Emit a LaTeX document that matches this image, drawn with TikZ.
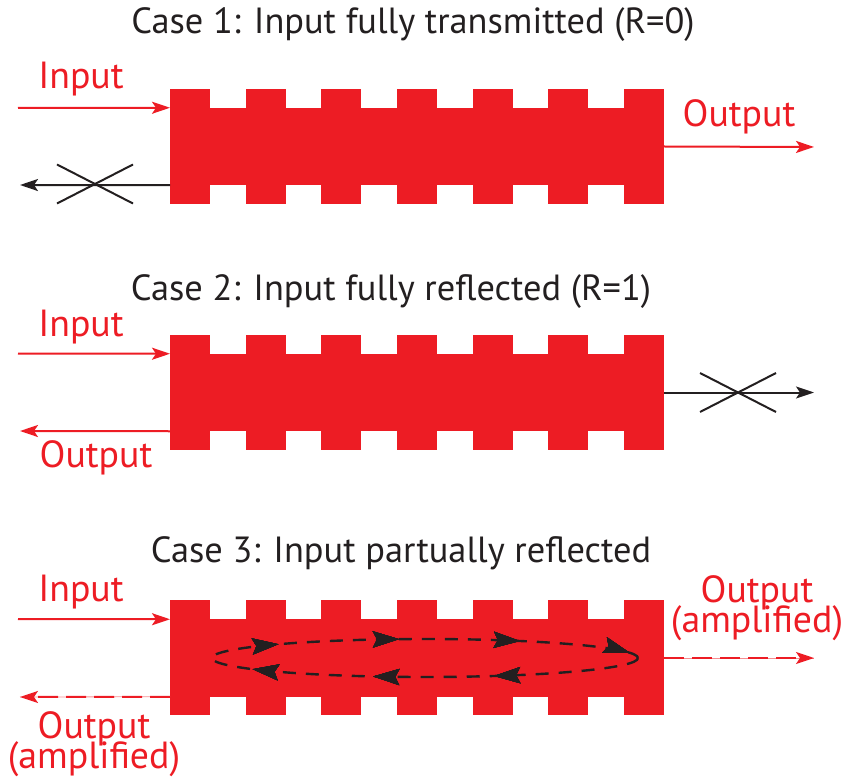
\documentclass[tikz,border=0pt]{standalone}
\usepackage{fontspec}
\setmainfont{PT Sans}
\usetikzlibrary{arrows.meta,decorations.markings,shapes.misc}
\definecolor{cred}{RGB}{237,28,36}
\definecolor{cblk}{RGB}{35,31,32}
\newcommand{\labfont}{\fontsize{18.9}{15}\selectfont\lineskiplimit-20pt\relax}

\begin{document}
\begin{tikzpicture}[x=0.5pt,y=-0.5pt, inner sep=0pt, outer sep=0pt, >={Stealth[length=9pt,width=6pt,inset=2pt]},
  body/.style={rectangle, fill=cred, minimum width=247pt, minimum height=38.75pt},
  lab/.style={text=cred, font={\labfont}, align=center},
  ttl/.style={text=cblk, font=\fontsize{18.2}{20}\selectfont, anchor=base},
  redarr/.style={draw=cred, line width=1pt, ->},
  blkarr/.style={draw=cblk, line width=1pt, ->},
  amparr/.style={draw=cred, line width=1pt, dash pattern=on 10pt off 4pt, ->, preaction={draw=cred!50, solid, -}},
  xmark/.style={cross out, draw=cblk, line width=1pt, minimum width=38pt, minimum height=19.5pt},
  loophead/.style={decoration={markings, mark=at position #1 with {\arrow{Stealth[length=13pt,width=8pt,inset=2pt]}}}, postaction={decorate}}]
\useasboundingbox (0,0) rectangle (844,780);
% the three gratings
\node (b1) at (417,146.5) [body] {};
\node (b2) at (417,392.5) [body] {};
\node (b3) at (417,658) [body] {};
\foreach \y in {89,335,600}
  \foreach \i in {0,...,6}
    \fill[cred] ({170+75.67*\i},\y) rectangle ++(40,115);
% case 1
\node (t1) at (413,34) [ttl] {Case 1: Input fully transmitted (R=0)};
\node (in1) at (81,89) [lab, anchor=base] {Input};
\node (out1) at (739,127) [lab, anchor=base] {Output};
\coordinate (s1) at (18,108);
\coordinate (e1) at (814,147);
\coordinate (r1) at (20,185);
\draw[redarr] (s1) -- (b1.north west);
\draw[redarr] (b1.east) -- (e1);
\draw[blkarr] (b1.south west) -- (r1);
\node (x1) at (95,184) [xmark] {};
% case 2
\node (t2) at (391,300) [ttl] {Case 2: Input fully reflected (R=1)};
\node (in2) at (81,336) [lab, anchor=base] {Input};
\node (out2) at (96,467) [lab, anchor=base] {Output};
\coordinate (s2) at (18,353.5);
\coordinate (r2) at (20,431);
\coordinate (e2) at (814,392.5);
\draw[redarr] (s2) -- (b2.north west);
\draw[redarr] (b2.south west) -- (r2);
\draw[blkarr] (b2.east) -- (e2);
\node (x2) at (738,392.5) [xmark] {};
% case 3
\node (t3) at (401,562) [ttl] {Case 3: Input partually reflected};
\node (in3) at (81,601) [lab, anchor=base] {Input};
\node (out3l) at (94,744) [lab] {Output\\(amplified)};
\node (out3r) at (757,608) [lab] {Output\\(amplified)};
\coordinate (s3) at (18,619);
\coordinate (r3) at (20,697);
\coordinate (e3) at (814,658);
\draw[redarr] (s3) -- (b3.north west);
\draw[amparr] (b3.south west) -- (r3);
\draw[amparr] (b3.east) -- (e3);
\draw[cblk, line width=1.2pt, dash pattern=on 6.5pt off 5pt,
  loophead=0.17, loophead=0.31, loophead=0.45, loophead=0.58, loophead=0.72, loophead=0.86, loophead=0.988]
  (425,658) ellipse [x radius=213, y radius=19];
\end{tikzpicture}
\end{document}
